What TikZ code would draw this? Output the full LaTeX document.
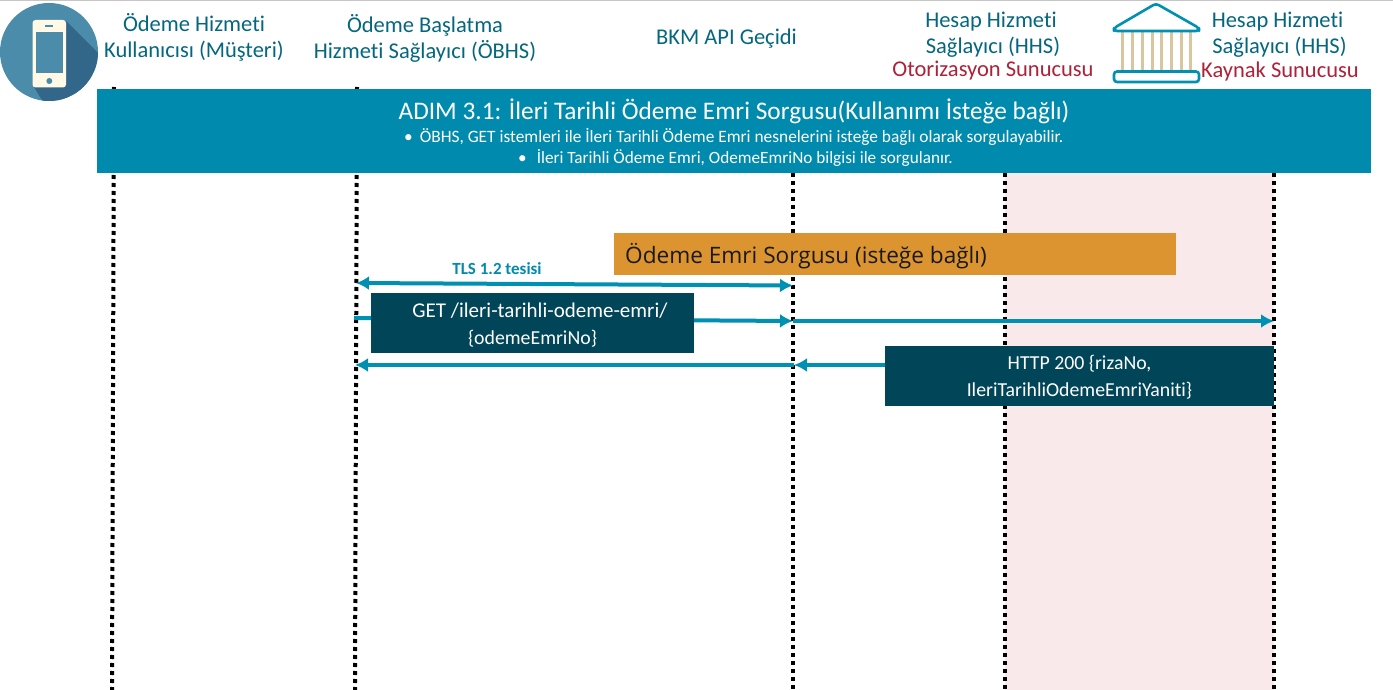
\documentclass[tikz,border=0pt]{standalone}
\usepackage{fontspec}
\setmainfont[RawFeature={-liga}]{Carlito}
\newfontfamily\uifont{Open Sans}
\usetikzlibrary{arrows.meta}
\definecolor{banner}{HTML}{008BAE}
\definecolor{head}{HTML}{05677F}
\definecolor{redt}{HTML}{AE2138}
\definecolor{darkb}{HTML}{004658}
\definecolor{orangeb}{HTML}{DB9430}
\definecolor{pinkb}{HTML}{F9E9EA}
\definecolor{line}{HTML}{0090B2}
\definecolor{disc}{HTML}{4B8CAB}
\definecolor{discd}{HTML}{33678A}
\definecolor{cream}{HTML}{FFF9E6}
\definecolor{pillar}{HTML}{D9C5A0}
\tikzset{
 x=1pt,y=-1pt,
 life/.style={line width=4pt,black,dash pattern=on 4pt off 4pt},
 msg/.style={line width=4pt,line,-{Latex[length=13pt,width=14pt]}},
 msgb/.style={line width=4pt,line,{Latex[length=13pt,width=14pt]}-{Latex[length=13pt,width=14pt]}},
 headt/.style={text=head,font=\fontsize{22.5}{26}\selectfont,align=center,inner sep=0pt},
 redl/.style={text=redt,font=\fontsize{22.5}{26}\selectfont,align=center,inner sep=0pt},
 darkbox/.style={fill=darkb,inner sep=0pt},
 darktext/.style={text=white,font=\fontsize{19.8}{27}\selectfont,align=center,inner sep=0pt},
 temple/.style={draw=line,line width=2.6pt,rounded corners=3pt,fill=white},
 pil/.style={line width=3pt,pillar},
}
\begin{document}
\begin{tikzpicture}
\useasboundingbox (0,0) rectangle (1393,690);
\fill[white] (0,0) rectangle (1393,690);
\fill[gray!45] (0,0) rectangle (1393,1.2);
% pink band
\fill[pinkb] (1005,173) rectangle (1274,690);
% lifeline coordinates
\coordinate (u1) at (114,87); \coordinate (u2) at (112,690);
\coordinate (o1) at (357,87); \coordinate (o2) at (355,690);
\coordinate (b1) at (793,173); \coordinate (b2) at (793,690);
\coordinate (a1) at (1005,173); \coordinate (a2) at (1005,690);
\coordinate (k1) at (1274,173); \coordinate (k2) at (1274,690);
\draw[life] (u1)--(u2);
\draw[life] (o1)--(o2);
\draw[life] (b1)--(b2);
\draw[life] (a1)--(a2);
\draw[life] (k1)--(k2);
% phone icon
\fill[disc] (49,52) circle (49);
\begin{scope}
\clip (49,52) circle (49);
\fill[discd] (66,21) -- (110,65) -- (110,110) -- (48,110) -- (34,87) -- cycle;
\end{scope}
\fill[cream,rounded corners=3pt] (32.5,20) rectangle (66,87.5);
\fill[disc] (35.5,32) rectangle (63,73.5);
\fill[disc] (45,25.3) rectangle (53,26.8);
\fill[disc] (49.3,81) circle (3);
% temple icon
\foreach \px in {1122,1132,1142,1152,1161,1171,1181,1190}{\draw[pil] (\px,32) -- (\px,71);}
\draw[temple,line join=round] (1156,3.5) -- (1199,28) -- (1199,31) -- (1114,31) -- (1114,28) -- cycle;
\draw[temple] (1114,71.5) rectangle (1199,82);
% header texts
\node[headt] (h1) at (194,37) {Ödeme Hizmeti\hspace{12pt}\\Kullanıcısı (Müşteri)};
\node[headt] (h2) at (425,38) {Ödeme Başlatma\\Hizmeti Sağlayıcı (ÖBHS)};
\node[headt] (h3) at (726.5,38.5) {BKM API Geçidi};
\node[headt] (h4) at (991,34.5) {Hesap Hizmeti\\\hspace{4pt}Sağlayıcı (HHS)};
\node[redl] (h4r) at (993,71) {Otorizasyon Sunucusu};
\node[headt] (h5) at (1277.5,34.5) {Hesap Hizmeti\\\hspace{4pt}Sağlayıcı (HHS)};
\node[redl] (h5r) at (1280,71.5) {Kaynak Sunucusu};
% banner
\fill[banner] (97,89) rectangle (1371,173);
\node[text=white,inner sep=0pt,font=\fontsize{25.3}{28}\selectfont] (t1) at (734,111.5) {ADIM 3.1: İleri Tarihli Ödeme Emri Sorgusu(Kullanımı İsteğe bağlı)};
\node[text=white,inner sep=0pt,font=\fontsize{17.35}{20}\selectfont,anchor=west] (t2) at (404,137) {•\hspace{7pt}ÖBHS, GET istemleri ile İleri Tarihli Ödeme Emri nesnelerini isteğe bağlı olarak sorgulayabilir.};
\node[text=white,inner sep=0pt,font=\fontsize{17.2}{20}\selectfont,anchor=west] (t3) at (518,158) {•\hspace{10pt}İleri Tarihli Ödeme Emri, OdemeEmriNo bilgisi ile sorgulanır.};
% orange
\node[fill=orangeb,minimum width=562pt,minimum height=42pt,inner sep=0pt] (ob) at (895,254) {};
\node[anchor=west,inner sep=0pt,font=\uifont\fontsize{22.6}{26}\selectfont,text=black!90] (obt) at (625,256.5) {Ödeme Emri Sorgusu (isteğe bağlı)};
% messages
\coordinate (s1) at (356,283); \coordinate (e1) at (793,285.5);
\draw[msgb] (s1)--(e1);
\node[text=banner,font=\bfseries\fontsize{17}{18}\selectfont,inner sep=0pt] (tls) at (497,269) {TLS 1.2 tesisi};
\coordinate (s2) at (354,318); \coordinate (e2) at (793,321); \coordinate (s2b) at (793,321); \coordinate (e2b) at (1274,321);
\draw[msg] (s2)--(e2);
\draw[msg] (s2b)--(e2b);
\coordinate (s3) at (1274,365); \coordinate (e3) at (794,365); \coordinate (s3b) at (794,365); \coordinate (e3b) at (355,365);
\draw[msg] (s3)--(e3);
\draw[msg] (s3b)--(e3b);
\node[darkbox,minimum width=323pt,minimum height=60pt] (getb) at (532.5,323) {};
\node[darktext] (gett) at (532.5,325) {\hspace{15pt}\fontsize{21}{27}\selectfont GET /ileri-tarihli-odeme-emri/\\\{odemeEmriNo\}};
\node[darkbox,minimum width=389pt,minimum height=60pt] (httpb) at (1079.5,376) {};
\node[darktext] (httpt) at (1079.5,377) {HTTP 200 \{rizaNo,\\IleriTarihliOdemeEmriYaniti\}};
\end{tikzpicture}
\end{document}
